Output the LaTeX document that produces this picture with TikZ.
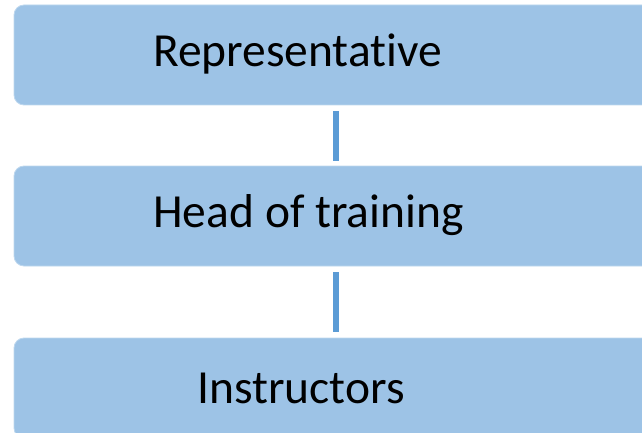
\documentclass[tikz,border=0pt]{standalone}
\usepackage{fontspec}
\setmainfont[Ligatures=NoCommon]{Carlito}
\definecolor{boxfill}{HTML}{9DC3E6}
\definecolor{boxline}{HTML}{BDD7EE}
\definecolor{connline}{HTML}{5B9BD5}
\begin{document}
\begin{tikzpicture}[x=1pt, y=-1pt,
    level/.style = {draw=boxline, line width=0.8pt, fill=boxfill, rounded corners=10pt,
      minimum width=644pt, minimum height=100pt, inner sep=0pt},
    title/.style = {anchor=base, font=\fontsize{47.5}{54}\selectfont, inner sep=0pt},
    conn/.style = {draw=connline, line width=6pt}]
  \clip (0,0) rectangle (642,433);
  \useasboundingbox (0,0) rectangle (642,433);

  \node[level] (rep) at (336,55) {};
  \node[level] (head) at (336,216) {};
  \node[level] (instr) at (336,388) {};

  \node[title] (reptext) at (297.5,67) {Representative};
  \node[title] (headtext) at (308.5,227.5) {Head of training};
  \node[title] (instrtext) at (301,403) {Instructors};

  \draw[conn, shorten <=6pt, shorten >=5pt] (rep.south) -- (head.north);
  \draw[conn, shorten <=6pt, shorten >=6pt] (head.south) -- (instr.north);
\end{tikzpicture}
\end{document}
